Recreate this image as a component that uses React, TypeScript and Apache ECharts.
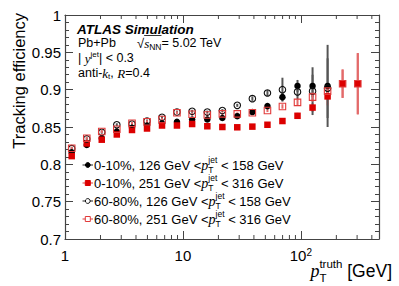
import React, { useEffect, useRef } from 'react';
import * as echarts from 'echarts';

// ---------------- data ----------------
const ptTruth = [1.14, 1.53, 2.05, 2.75, 3.7, 4.96, 6.65, 8.9, 11.97, 16.1, 21.6, 28.9, 38.8, 52.1, 69.8, 93.7, 125.7, 168.6, 226, 304];

const central126 = [0.816, 0.826, 0.835, 0.844, 0.849, 0.852, 0.855, 0.857, 0.86, 0.86, 0.862, 0.8645, 0.87, 0.878, 0.89, 0.905, 0.905, 0.905];
const central126Err = [0.002, 0.002, 0.002, 0.002, 0.002, 0.002, 0.002, 0.002, 0.002, 0.002, 0.002, 0.002, 0.003, 0.003, 0.005, 0.008, 0.015, 0.055];

const central251 = [0.811, 0.828, 0.833, 0.84, 0.846, 0.848, 0.852, 0.852, 0.854, 0.851, 0.85, 0.8496, 0.8505, 0.853, 0.858, 0.865, 0.876, 0.891, 0.908, 0.908];
const central251Err = [0.002, 0.002, 0.002, 0.002, 0.002, 0.002, 0.002, 0.002, 0.002, 0.002, 0.002, 0.002, 0.002, 0.002, 0.003, 0.004, 0.006, 0.012, 0.019, 0.041];

const periph126 = [0.821, 0.834, 0.843, 0.853, 0.854, 0.858, 0.863, 0.87, 0.871, 0.87, 0.872, 0.879, 0.888, 0.8955, 0.9, 0.897, 0.898, 0.902];
const periph126Err = [0.002, 0.002, 0.002, 0.002, 0.002, 0.002, 0.002, 0.002, 0.002, 0.002, 0.002, 0.002, 0.003, 0.004, 0.016, 0.01, 0.032, 0.04];

const periph251 = [0.8216, 0.835, 0.844, 0.847, 0.855, 0.857, 0.86, 0.869, 0.867, 0.866, 0.8676, 0.8676, 0.869, 0.872, 0.8775, 0.883, 0.89, 0.898, 0.908, 0.908];
const periph251Err = [0.002, 0.002, 0.002, 0.002, 0.002, 0.002, 0.002, 0.002, 0.002, 0.002, 0.002, 0.002, 0.002, 0.002, 0.003, 0.004, 0.006, 0.01, 0.019, 0.041];

const centrality = ['0-10%', '0-10%', '60-80%', '60-80%'];
const jetPtLow = [126, 251, 126, 251];
const jetPtHigh = [158, 316, 158, 316];

const xMajor = [1, 10, 100];
const xMinor = [2, 3, 4, 5, 6, 7, 8, 9, 20, 30, 40, 50, 60, 70, 80, 90, 200, 300, 400];
const yMin = 0.7;
const yMax = 1.0;
const yStep = 0.05;
const xMin = 1;
const xMax = 460;

// ---------------- styles ----------------
const SANS = "'Liberation Sans', Arial, Helvetica, sans-serif";
const SERIF = "'Liberation Serif', 'Times New Roman', serif";
const FRAME = '#444';

const seriesStyles = [
  { symbol: 'circle', fill: '#000', stroke: '#000', err: '#555' },
  { symbol: 'rect', fill: '#dc0000', stroke: '#dc0000', err: '#e36a6a' },
  { symbol: 'circle', fill: 'rgba(0,0,0,0)', stroke: '#111', err: '#555' },
  { symbol: 'rect', fill: 'rgba(0,0,0,0)', stroke: '#e23a3a', err: '#e36a6a' },
];

// ---------------- text layout helpers ----------------
let _ctx: CanvasRenderingContext2D | null = null;
function measure(text: string, size: number, family: string, italic?: boolean, bold?: boolean) {
  if (!_ctx) _ctx = document.createElement('canvas').getContext('2d');
  if (!_ctx) return text.length * size * 0.55;
  _ctx.font = `${italic ? 'italic ' : ''}${bold ? 'bold ' : ''}${size}px ${family}`;
  return _ctx.measureText(text).width;
}
type Seg = { t: string; size: number; serif?: boolean; italic?: boolean; bold?: boolean; dy?: number; stack?: boolean };
function layout(x: number, y: number, segs: Seg[], color: string) {
  let cx = x;
  let pend = 0;
  const els: any[] = [];
  const starts: number[] = [];
  const ends: number[] = [];
  for (const s of segs) {
    const fam = s.serif ? SERIF : SANS;
    const w = measure(s.t, s.size, fam, s.italic, s.bold);
    starts.push(cx);
    ends.push(cx + w);
    els.push({
      type: 'text',
      x: cx,
      y: y + (s.dy || 0),
      silent: true,
      style: {
        text: s.t,
        fontSize: s.size,
        fontFamily: fam,
        fontStyle: s.italic ? 'italic' : 'normal',
        fontWeight: s.bold ? 'bold' : 'normal',
        fill: color,
        align: 'left',
        verticalAlign: 'middle',
      },
    });
    if (s.stack) pend = Math.max(pend, w);
    else {
      cx += Math.max(w, pend);
      pend = 0;
    }
  }
  return { els, starts, ends, end: cx };
}

function buildGraphics() {
  const g: any[] = [];
  // ATLAS label block
  g.push(...layout(77, 29, [{ t: 'ATLAS Simulation', size: 13.5, bold: true, italic: true }], '#000').els);
  g.push(...layout(78, 43, [{ t: 'Pb+Pb', size: 12.5 }], '#000').els);
  const sq = layout(137, 43, [
    { t: '√', size: 13 },
    { t: 's', size: 13, serif: true, italic: true },
    { t: 'NN', size: 8.5, dy: 3.5 },
    { t: '= 5.02 TeV', size: 12.5 },
  ], '#000');
  g.push(...sq.els);
  g.push({ type: 'line', silent: true, shape: { x1: sq.starts[1], y1: 35.5, x2: sq.ends[2], y2: 35.5 }, style: { stroke: '#000', lineWidth: 0.8 } });
  g.push(...layout(78, 58, [
    { t: '| ', size: 12.5 },
    { t: 'y', size: 13, serif: true, italic: true },
    { t: 'jet', size: 8, dy: -4 },
    { t: '| < 0.3', size: 12.5 },
  ], '#000').els);
  g.push(...layout(78, 73, [
    { t: 'anti-', size: 12.5 },
    { t: 'k', size: 13, serif: true, italic: true },
    { t: 't', size: 8, dy: 3.5 },
    { t: ', ', size: 12.5 },
    { t: 'R', size: 13, serif: true, italic: true },
    { t: '=0.4', size: 12.5 },
  ], '#000').els);

  // legend
  for (let i = 0; i < 4; i++) {
    const y = 165 + 18 * i;
    const st = seriesStyles[i];
    g.push({ type: 'line', silent: true, shape: { x1: 82.5, y1: y, x2: 93, y2: y }, style: { stroke: st.err, lineWidth: 1.3 } });
    if (st.symbol === 'circle') {
      g.push({ type: 'circle', silent: true, shape: { cx: 87.8, cy: y, r: 2.4 }, style: { fill: st.fill === 'rgba(0,0,0,0)' ? '#fff' : st.fill, stroke: st.stroke, lineWidth: 1 } });
    } else {
      g.push({ type: 'rect', silent: true, shape: { x: 85.3, y: y - 2.5, width: 5, height: 5 }, style: { fill: st.fill === 'rgba(0,0,0,0)' ? '#fff' : st.fill, stroke: st.stroke, lineWidth: 1 } });
    }
    g.push(...layout(94, y, [
      { t: `${centrality[i]}, ${jetPtLow[i]} GeV <`, size: 13 },
      { t: 'p', size: 14, serif: true, italic: true },
      { t: 'jet', size: 8.5, dy: -5, stack: true },
      { t: 'T', size: 8.5, dy: 4.5 },
      { t: ` < ${jetPtHigh[i]} GeV`, size: 13 },
    ], '#000').els);
  }

  // x-axis title
  const xt: Seg[] = [
    { t: 'p', size: 18, serif: true, italic: true },
    { t: 'truth', size: 11.5, dy: -7, stack: true },
    { t: 'T', size: 11.5, dy: 7 },
    { t: ' [GeV]', size: 17.5 },
  ];
  const w = layout(0, 0, xt, '#000').end;
  g.push(...layout(392 - w, 271, xt, '#000').els);

  // y-axis title
  g.push({
    type: 'text',
    x: 19,
    y: 13,
    rotation: Math.PI / 2,
    silent: true,
    style: { text: 'Tracking efficiency', fontSize: 16.5, fontFamily: SANS, fill: '#000', align: 'right', verticalAlign: 'middle' },
  });
  return g;
}

function errSeries(xs: number[], ys: number[], es: number[], color: string) {
  return {
    type: 'custom',
    silent: true,
    z: 2,
    data: ys.map((y, i) => [xs[i], y, es[i]]),
    renderItem: (params: any, api: any) => {
      const x = api.value(0);
      const y = api.value(1);
      const e = api.value(2);
      const p1 = api.coord([x, y + e]);
      const p2 = api.coord([x, y - e]);
      return { type: 'line', shape: { x1: p1[0], y1: p1[1], x2: p2[0], y2: p2[1] }, style: { stroke: color, lineWidth: 2 } };
    },
  };
}

function markerSeries(xs: number[], ys: number[], idx: number) {
  const st = seriesStyles[idx];
  return {
    type: 'scatter',
    silent: true,
    z: 3,
    symbol: st.symbol,
    symbolSize: 6.5,
    data: ys.map((y, i) => [xs[i], y]),
    itemStyle: { color: st.fill, borderColor: st.stroke, borderWidth: st.fill === 'rgba(0,0,0,0)' ? 1.1 : 0, opacity: 1 },
  };
}

function xLabel(v: number) {
  const e = Math.round(Math.log10(v));
  if (Math.abs(Math.log10(v) - e) > 1e-6) return '';
  if (!xMajor.some((m) => Math.abs(m - Math.pow(10, e)) < 1e-6)) return '';
  if (e === 0) return '{n|1}';
  if (e === 1) return '{n|10}';
  return `{n|10}{s|${e}}`;
}

export default function App() {
  const ref = useRef<HTMLDivElement>(null);
  useEffect(() => {
    document.body.style.margin = '0';
    if (!ref.current) return;
    const chart = echarts.init(ref.current, undefined, { renderer: 'svg' });
    const tickCommon = { show: true, inside: true, length: 8, lineStyle: { color: FRAME, width: 1 } };
    const lineCommon = { show: true, lineStyle: { color: FRAME, width: 1.2 } };
    const minorY = { show: true, splitNumber: 5, length: 4, lineStyle: { color: FRAME, width: 1 } };
    const option: any = {
      animation: false,
      backgroundColor: '#fff',
      grid: { left: 65, right: 20, top: 15, bottom: 47, containLabel: false },
      xAxis: [
        {
          type: 'log', logBase: 10, min: xMin, max: xMax,
          axisLine: lineCommon, axisTick: tickCommon, splitLine: { show: false }, minorTick: { show: false },
          axisLabel: {
            show: true, margin: 8, formatter: xLabel, showMaxLabel: false,
            rich: {
              n: { fontSize: 15, fontFamily: SANS, color: '#000', lineHeight: 16 },
              s: { fontSize: 10, fontFamily: SANS, color: '#000', lineHeight: 8, verticalAlign: 'top' },
            },
          },
        },
        {
          type: 'log', logBase: 10, min: xMin, max: xMax, position: 'top',
          axisLine: lineCommon, axisTick: tickCommon, axisLabel: { show: false }, splitLine: { show: false },
        },
      ],
      yAxis: [
        {
          type: 'value', min: yMin, max: yMax, interval: yStep,
          axisLine: lineCommon, axisTick: tickCommon, minorTick: minorY, splitLine: { show: false }, minorSplitLine: { show: false },
          axisLabel: {
            margin: 4, fontSize: 15, fontFamily: SANS, color: '#000',
            formatter: (v: number) => String(Number(v.toFixed(2))),
          },
        },
        {
          type: 'value', min: yMin, max: yMax, interval: yStep, position: 'right',
          axisLine: lineCommon, axisTick: tickCommon, minorTick: minorY, splitLine: { show: false }, axisLabel: { show: false },
        },
      ],
      series: [
        {
          type: 'custom',
          silent: true,
          z: 1,
          data: xMinor.map((v) => [v, yMin]),
          renderItem: (params: any, api: any) => {
            const v = api.value(0);
            const b = api.coord([v, yMin]);
            const t = api.coord([v, yMax]);
            return {
              type: 'group',
              children: [
                { type: 'line', shape: { x1: b[0], y1: b[1], x2: b[0], y2: b[1] - 4 }, style: { stroke: FRAME, lineWidth: 1 } },
                { type: 'line', shape: { x1: t[0], y1: t[1], x2: t[0], y2: t[1] + 4 }, style: { stroke: FRAME, lineWidth: 1 } },
              ],
            };
          },
        },
        errSeries(ptTruth, central126, central126Err, seriesStyles[0].err),
        errSeries(ptTruth, central251, central251Err, seriesStyles[1].err),
        errSeries(ptTruth, periph126, periph126Err, seriesStyles[2].err),
        errSeries(ptTruth, periph251, periph251Err, seriesStyles[3].err),
        markerSeries(ptTruth, central126, 0),
        markerSeries(ptTruth, central251, 1),
        markerSeries(ptTruth, periph126, 2),
        markerSeries(ptTruth, periph251, 3),
      ],
      graphic: buildGraphics(),
    };
    chart.setOption(option);
    return () => chart.dispose();
  }, []);
  return <div ref={ref} style={{ width: 399, height: 286 }} />;
}
